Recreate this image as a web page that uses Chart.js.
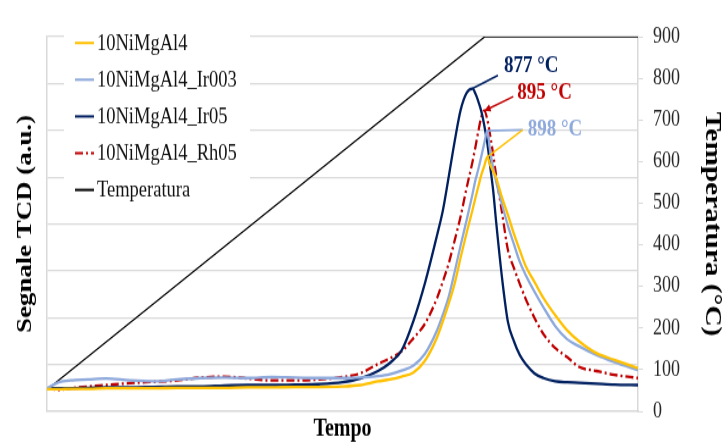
<!DOCTYPE html>
<html lang="it">
<head>
<meta charset="utf-8">
<title>TCD - riduzione</title>
<script src="https://cdn.jsdelivr.net/npm/chart.js@4.4.1/dist/chart.umd.min.js"></script>
<style>
    html, body { margin: 0; padding: 0; background: #fff; }
    #page { width: 725px; height: 443px; overflow: hidden; position: relative; }
    /* the original figure is stretched vertically, so the whole chart is too */
    #wrap { position: absolute; left: 0; top: 0; width: 725px; height: 363px; transform: scaleY(1.2204); transform-origin: 0 0; }
</style>
</head>
<body>
<div id="page"><div id="wrap"><canvas id="tcdChart" width="725" height="363"></canvas></div></div>
<script>
        // time axis (arbitrary units, no labels on the chart)
        const tempo = [0, 2, 4, 7, 10, 14, 18, 22, 26, 30, 34, 38, 42, 46, 50, 53, 56, 58, 60, 62,
            64, 66, 67, 68, 69, 70, 71, 72, 72.5, 73, 73.5, 74, 74.5, 75, 75.5, 76, 77, 78, 79, 80,
            81, 82.5, 84, 86, 88, 90, 93, 96, 100];

        // TCD signals (a.u.)
        const niMgAl4 = [0.47, 0.47, 0.48, 0.48, 0.49, 0.49, 0.49, 0.50, 0.50, 0.50, 0.51, 0.51, 0.52, 0.52, 0.53, 0.56, 0.64, 0.68, 0.74, 0.83,
            1.09, 1.58, 1.93, 2.31, 2.74, 3.29, 3.81, 4.30, 4.56, 4.81, 5.05, 5.24, 5.43, 5.26, 5.12, 4.98, 4.56, 4.19, 3.79, 3.44,
            3.10, 2.76, 2.42, 2.05, 1.73, 1.50, 1.24, 1.10, 0.92];
        const niMgAl4Ir003 = [0.49, 0.62, 0.66, 0.68, 0.70, 0.66, 0.64, 0.68, 0.71, 0.72, 0.71, 0.73, 0.72, 0.71, 0.71, 0.72, 0.75, 0.79, 0.87, 0.98,
            1.24, 1.73, 2.07, 2.46, 2.99, 3.55, 4.08, 4.64, 4.94, 5.18, 5.45, 5.73, 5.99, 5.54, 5.20, 4.90, 4.41, 3.96, 3.57, 3.19,
            2.91, 2.55, 2.22, 1.82, 1.54, 1.39, 1.20, 1.05, 0.88];
        const niMgAl4Ir05 = [0.49, 0.49, 0.49, 0.50, 0.51, 0.51, 0.52, 0.53, 0.53, 0.55, 0.56, 0.56, 0.57, 0.58, 0.62, 0.70, 0.86, 1.03, 1.30, 1.93,
            2.76, 3.76, 4.30, 5.03, 5.78, 6.44, 6.80, 6.89, 6.78, 6.61, 6.40, 6.10, 5.73, 5.22, 4.71, 4.04, 2.84, 1.90, 1.50, 1.20,
            1.01, 0.81, 0.71, 0.64, 0.62, 0.61, 0.59, 0.57, 0.56];
        const niMgAl4Rh05 = [0.49, 0.46, 0.49, 0.53, 0.56, 0.60, 0.63, 0.66, 0.72, 0.74, 0.70, 0.66, 0.66, 0.68, 0.73, 0.81, 1.01, 1.13, 1.28, 1.56,
            1.88, 2.42, 2.78, 3.17, 3.66, 4.17, 4.77, 5.33, 5.65, 5.99, 6.29, 6.42, 6.23, 5.88, 5.48, 5.03, 4.24, 3.44, 3.06, 2.72,
            2.40, 1.99, 1.65, 1.35, 1.16, 0.95, 0.86, 0.78, 0.71];

        // temperature ramp (°C), read at its corners
        const tempoRampa = [0, 74.1, 100];
        const temperatura = [52, 900, 900];
        const tickTemperatura = [0, 100, 200, 300, 400, 500, 600, 700, 800, 900];

        const nomiSerie = ['10NiMgAl4', '10NiMgAl4_Ir003', '10NiMgAl4_Ir05', '10NiMgAl4_Rh05', 'Temperatura'];
        const picchi = ['877 °C', '895 °C', '898 °C'];

        const SERIF = "'Liberation Serif', 'Times New Roman', serif";
        const GRID = '#D9D9D9';
        const colori = ['#FFC000', '#8EA9DB', '#002060', '#C00000', '#000000'];
        const DASH_DOT = [8, 3, 2, 3];

        Chart.defaults.font.family = SERIF;
        Chart.defaults.color = '#1a1a1a';

        function punti(xs, ys) {
            return xs.map((x, i) => ({ x: x, y: ys[i] }));
        }

        function serie(label, values, color, extra) {
            return Object.assign({
                label: label,
                data: punti(tempo, values),
                borderColor: color,
                backgroundColor: color,
                borderWidth: 2.3,
                pointRadius: 0,
                cubicInterpolationMode: 'monotone',
                yAxisID: 'y'
            }, extra || {});
        }

        // leader lines + peak temperature labels (ends given in data units)
        const callouts = [
            { serie: 2, text: picchi[0], end: [76.3, 7.17], dx: 6, dy: -7.5 },
            { serie: 3, text: picchi[1], end: [78.9, 6.72], dx: 4, dy: -3.5, arrow: true },
            { serie: 1, text: picchi[2], end: [80.5, 6.01], dx: 5, dy: 0 },
            { serie: 0, text: '', end: [80.5, 6.01] }
        ];

        const calloutPlugin = {
            id: 'callouts',
            afterDatasetsDraw(chart) {
                const { ctx, scales } = chart;
                ctx.save();
                callouts.forEach(c => {
                    const vals = chart.data.datasets[c.serie].data;
                    let iMax = 0;
                    vals.forEach((p, i) => { if (p.y > vals[iMax].y) iMax = i; });
                    const ax = scales.x.getPixelForValue(vals[iMax].x);
                    const ay = scales.y.getPixelForValue(vals[iMax].y);
                    const ex = scales.x.getPixelForValue(c.end[0]);
                    const ey = scales.y.getPixelForValue(c.end[1]);
                    const color = colori[c.serie];

                    ctx.strokeStyle = color;
                    ctx.fillStyle = color;
                    ctx.lineWidth = 1.6;
                    ctx.setLineDash([]);
                    ctx.beginPath();
                    ctx.moveTo(ax, ay);
                    ctx.lineTo(ex, ey);
                    ctx.stroke();

                    if (c.arrow) {
                        const ang = Math.atan2(ay - ey, ax - ex);
                        ctx.beginPath();
                        ctx.moveTo(ax, ay);
                        ctx.lineTo(ax - 7 * Math.cos(ang - 0.45), ay - 7 * Math.sin(ang - 0.45));
                        ctx.lineTo(ax - 7 * Math.cos(ang + 0.45), ay - 7 * Math.sin(ang + 0.45));
                        ctx.closePath();
                        ctx.fill();
                    }

                    if (c.text) {
                        ctx.font = 'bold 19px ' + SERIF;
                        ctx.textAlign = 'left';
                        ctx.textBaseline = 'middle';
                        ctx.fillText(c.text, ex + c.dx, ey + c.dy);
                    }
                });
                ctx.restore();
            }
        };

        // legend inside the plot, top left, on a white box
        const legendPlugin = {
            id: 'legendaInterna',
            afterDraw(chart) {
                const ctx = chart.ctx;
                ctx.save();
                ctx.fillStyle = '#fff';
                ctx.fillRect(64, 21, 186, 147);
                chart.data.datasets.forEach((ds, i) => {
                    const y = 35.2 + i * 30.1;
                    ctx.strokeStyle = ds.borderColor;
                    ctx.lineWidth = 2;
                    ctx.setLineDash(ds.borderDash || []);
                    ctx.beginPath();
                    ctx.moveTo(75, y);
                    ctx.lineTo(94, y);
                    ctx.stroke();
                    ctx.setLineDash([]);
                    ctx.fillStyle = '#111';
                    ctx.font = '18.5px ' + SERIF;
                    ctx.textAlign = 'left';
                    ctx.textBaseline = 'middle';
                    ctx.fillText(ds.label, 97, y + 1);
                });
                ctx.restore();
            }
        };

        new Chart(document.getElementById('tcdChart'), {
            type: 'line',
            data: {
                datasets: [
                    serie(nomiSerie[0], niMgAl4, colori[0]),
                    serie(nomiSerie[1], niMgAl4Ir003, colori[1]),
                    serie(nomiSerie[2], niMgAl4Ir05, colori[2]),
                    serie(nomiSerie[3], niMgAl4Rh05, colori[3], { borderDash: DASH_DOT }),
                    {
                        label: nomiSerie[4],
                        data: punti(tempoRampa, temperatura),
                        borderColor: colori[4],
                        backgroundColor: colori[4],
                        borderWidth: 1.3,
                        pointRadius: 0,
                        tension: 0,
                        yAxisID: 'y2'
                    }
                ]
            },
            options: {
                responsive: false,
                animation: false,
                layout: { padding: { top: 30, left: 0, right: 0, bottom: 0 } },
                plugins: {
                    legend: { display: false },
                    tooltip: { enabled: false }
                },
                scales: {
                    x: {
                        type: 'linear',
                        min: 0,
                        max: 100,
                        ticks: { display: false },
                        grid: { display: false },
                        border: { color: GRID, width: 1.5 },
                        title: {
                            display: true,
                            text: 'Tempo',
                            color: '#000',
                            font: { size: 20, weight: 'bold', lineHeight: 1 },
                            padding: { top: 0, bottom: 1 }
                        },
                        afterFit: s => { s.height = 26; }
                    },
                    y: {
                        position: 'left',
                        min: 0,
                        max: 8,
                        ticks: { display: false, stepSize: 1 },
                        grid: { color: GRID, lineWidth: 1.2, drawTicks: false },
                        border: { color: GRID, width: 1.5 },
                        title: {
                            display: true,
                            text: 'Segnale TCD (a.u.)',
                            color: '#000',
                            font: { size: 22, weight: 'bold', lineHeight: 1 },
                            padding: { top: 14, bottom: 0 }
                        },
                        afterFit: s => { s.width = 47; }
                    },
                    y2: {
                        position: 'right',
                        min: 0,
                        max: 900,
                        afterBuildTicks: s => { s.ticks = tickTemperatura.map(v => ({ value: v })); },
                        ticks: { color: '#262626', font: { size: 18 }, padding: 10 },
                        grid: { drawOnChartArea: false, color: GRID, tickLength: 5 },
                        border: { color: GRID, width: 1.5 },
                        title: {
                            display: true,
                            text: 'Temperatura (°C)',
                            color: '#000',
                            font: { size: 24, weight: 'bold', lineHeight: 1 },
                            padding: { top: 1, bottom: 0 }
                        },
                        afterFit: s => { s.width = 87; }
                    }
                }
            },
            plugins: [calloutPlugin, legendPlugin]
        });
</script>
</body>
</html>
